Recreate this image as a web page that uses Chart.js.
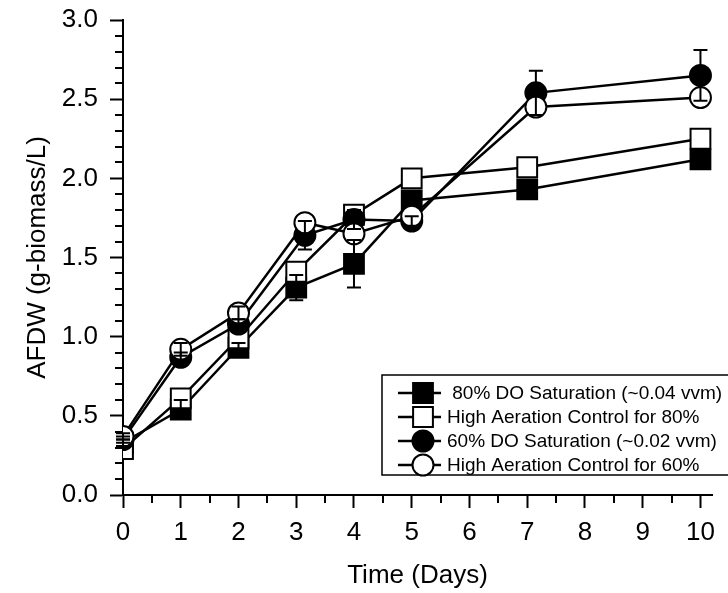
<!DOCTYPE html>
<html>
<head>
<meta charset="utf-8">
<script src="https://cdn.jsdelivr.net/npm/chart.js@4.4.1/dist/chart.umd.min.js"></script>
<style>
  html, body { margin: 0; padding: 0; background: #fff; }
  canvas { display: block; }
</style>
</head>
<body>
<canvas id="afdwChart" width="728" height="593"></canvas>
<script>
// sampling days (circle series were sampled a little later on days 3 and 7)
const squareDays = [0, 1, 2, 3, 4, 5, 7, 10];
const circleDays = [0, 1, 2, 3.15, 4, 5, 7.15, 10];

const seriesNames = [
  " 80% DO Saturation (~0.04 vvm)",
  "High Aeration Control for 80%",
  "60% DO Saturation (~0.02 vvm)",
  "High Aeration Control for 60%",
];

// AFDW values (g-biomass/L) and their error bars
const do80 = [0.33, 0.54, 0.93, 1.31, 1.46, 1.86, 1.93, 2.12];
const do80Err = [0.02, 0.06, 0.03, 0.08, 0.15, 0.03, 0.03, 0.03];
const ctl80 = [0.29, 0.61, 0.99, 1.41, 1.77, 2.0, 2.07, 2.25];
const ctl80Err = [0, 0, 0, 0, 0, 0, 0, 0];
const do60 = [0.35, 0.87, 1.08, 1.64, 1.74, 1.73, 2.54, 2.65];
const do60Err = [0.02, 0.03, 0.03, 0.09, 0.06, 0.03, 0.14, 0.16];
const ctl60 = [0.37, 0.92, 1.15, 1.72, 1.65, 1.76, 2.45, 2.51];
const ctl60Err = [0.02, 0.04, 0.04, 0, 0, 0, 0, 0];

const FONT = "'Liberation Sans', Arial, sans-serif";

function points(days, vals) {
  return days.map((d, i) => ({ x: d, y: vals[i] }));
}

function series(label, days, vals, errs, style, fill, order) {
  return {
    label: label,
    data: points(days, vals),
    errors: errs,
    borderColor: "#000",
    borderWidth: 2.5,
    tension: 0,
    pointStyle: style,
    pointRadius: style === "rect" ? 14 : 10.5,
    pointBackgroundColor: fill,
    pointBorderColor: "#000",
    pointBorderWidth: 2,
    order: order,
  };
}

// error bars, drawn over all markers like in the original plot
const errorBars = {
  id: "errorBars",
  afterDatasetsDraw(chart) {
    const ctx = chart.ctx;
    const y = chart.scales.y;
    ctx.save();
    ctx.strokeStyle = "#000";
    ctx.lineWidth = 2;
    chart.data.datasets.forEach((ds, i) => {
      const meta = chart.getDatasetMeta(i);
      meta.data.forEach((pt, j) => {
        const v = ds.data[j].y;
        const e = ds.errors[j];
        if (!e) return;
        const top = y.getPixelForValue(v + e);
        const bot = y.getPixelForValue(v - e);
        ctx.beginPath();
        ctx.moveTo(pt.x, top);
        ctx.lineTo(pt.x, bot);
        ctx.moveTo(pt.x - 7, top);
        ctx.lineTo(pt.x + 7, top);
        ctx.moveTo(pt.x - 7, bot);
        ctx.lineTo(pt.x + 7, bot);
        ctx.stroke();
      });
    });
    ctx.restore();
  },
};

// minor ticks: every half day and every 0.1 g/L
const minorTicks = {
  id: "minorTicks",
  afterDraw(chart) {
    const ctx = chart.ctx;
    const { x, y } = chart.scales;
    const area = chart.chartArea;
    ctx.save();
    ctx.strokeStyle = "#000";
    ctx.lineWidth = 2;
    ctx.beginPath();
    for (let d = 0.5; d < 10; d += 1) {
      const px = Math.round(x.getPixelForValue(d));
      ctx.moveTo(px, area.bottom);
      ctx.lineTo(px, area.bottom + 8);
    }
    for (let k = 1; k < 30; k++) {
      if (k % 5 === 0) continue;
      const py = Math.round(y.getPixelForValue(k / 10));
      ctx.moveTo(area.left, py);
      ctx.lineTo(area.left - 8, py);
    }
    ctx.stroke();
    ctx.restore();
  },
};

// boxed legend in the lower right, as in the figure
const boxLegend = {
  id: "boxLegend",
  afterDraw(chart) {
    const ctx = chart.ctx;
    ctx.save();
    ctx.strokeStyle = "#000";
    ctx.lineWidth = 1.5;
    ctx.strokeRect(382, 375, 360, 100);
    ctx.font = "19px " + FONT;
    ctx.textBaseline = "middle";
    ctx.textAlign = "left";
    chart.data.datasets.forEach((ds, i) => {
      const cy = 393 + i * 24;
      ctx.lineWidth = 2.5;
      ctx.beginPath();
      ctx.moveTo(398, cy);
      ctx.lineTo(441, cy);
      ctx.stroke();
      ctx.fillStyle = ds.pointBackgroundColor;
      ctx.lineWidth = 2;
      Chart.helpers.drawPoint(ctx, {
        pointStyle: ds.pointStyle,
        radius: ds.pointRadius,
        rotation: 0,
        borderWidth: 2,
      }, 423, cy);
      ctx.fillStyle = "#000";
      ctx.fillText(ds.label, 447, cy + 1);
    });
    ctx.restore();
  },
};

const config = {
  type: "line",
  data: {
    datasets: [
      series(seriesNames[0], squareDays, do80, do80Err, "rect", "#000", 4),
      series(seriesNames[1], squareDays, ctl80, ctl80Err, "rect", "#fff", 3),
      series(seriesNames[2], circleDays, do60, do60Err, "circle", "#000", 2),
      series(seriesNames[3], circleDays, ctl60, ctl60Err, "circle", "#fff", 1),
    ],
  },
  options: {
    responsive: false,
    animation: false,
    devicePixelRatio: 1,
    layout: { padding: { top: 20, right: 16, left: 0, bottom: 0 } },
    plugins: {
      legend: { display: false },
      tooltip: { enabled: false },
    },
    scales: {
      x: {
        type: "linear",
        min: 0,
        max: 10.2,
        afterFit(scale) {
          scale.height = 98;
          scale.paddingLeft = 0;
          scale.paddingRight = 0;
        },
        border: { display: true, color: "#000", width: 2 },
        grid: { drawOnChartArea: false, tickLength: 13, tickWidth: 2, tickColor: "#000" },
        ticks: {
          stepSize: 1,
          includeBounds: false,
          color: "#000",
          padding: 9,
          font: { family: FONT, size: 26 },
          callback: (v) => String(v),
        },
        title: {
          display: true,
          text: "Time (Days)",
          color: "#000",
          font: { family: FONT, size: 26 },
          padding: { top: 0, bottom: 2 },
        },
      },
      y: {
        min: 0,
        max: 3,
        afterFit(scale) {
          scale.width = 123;
          scale.paddingTop = 0;
          scale.paddingBottom = 0;
        },
        border: { display: true, color: "#000", width: 2 },
        grid: { drawOnChartArea: false, tickLength: 13, tickWidth: 2, tickColor: "#000" },
        ticks: {
          stepSize: 0.5,
          color: "#000",
          padding: 12,
          font: { family: FONT, size: 26 },
          callback: (v) => v.toFixed(1),
        },
        title: {
          display: true,
          text: "AFDW (g-biomass/L)",
          color: "#000",
          font: { family: FONT, size: 26 },
          padding: { top: 22, bottom: 0 },
        },
      },
    },
  },
  plugins: [errorBars, minorTicks, boxLegend],
};

const afdwChart = new Chart(document.getElementById("afdwChart"), config);
</script>
</body>
</html>
